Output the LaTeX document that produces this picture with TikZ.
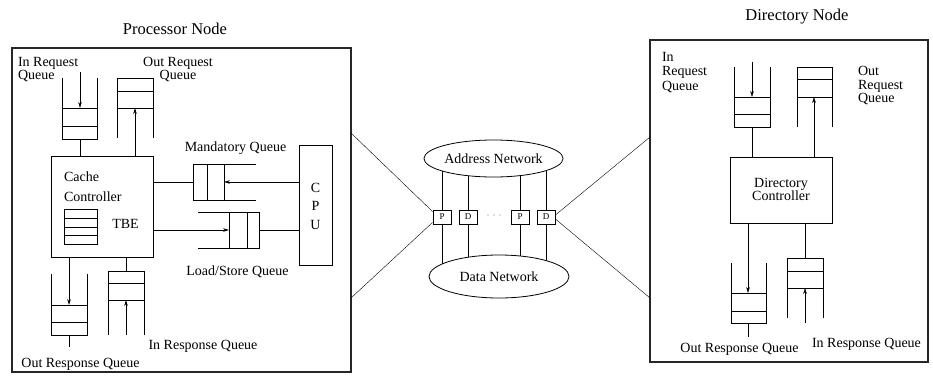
\documentclass[tikz,border=0pt]{standalone}
\usepackage{fontspec}
\setmainfont{Liberation Serif}
\usetikzlibrary{shapes.geometric,arrows.meta}
\pgfdeclarelayer{background}
\pgfsetlayers{background,main}
\tikzset{
  lbl/.style={font=\fontsize{14}{16}\selectfont, inner sep=0pt, outer sep=0pt},
  ttl/.style={font=\fontsize{16.5}{18}\selectfont, inner sep=0pt},
  box/.style={draw, line width=0.8pt, inner sep=0pt, outer sep=0pt, anchor=north west},
  frame/.style={draw=black!85, line width=1.2pt, inner sep=0pt, outer sep=0pt, anchor=north west},
  port/.style={draw, fill=white, line width=0.8pt, minimum width=18, minimum height=14, inner sep=0pt, font=\fontsize{9}{10}\selectfont},
  net/.style={draw, ellipse, fill=white, line width=0.8pt, inner sep=0pt, font=\fontsize{14}{16}\selectfont},
  arr/.style={-{Stealth[length=6pt,width=3.6pt]}},
}
\begin{document}
\begin{tikzpicture}[x=1pt,y=-1pt,line width=0.8pt]
\useasboundingbox (0,0) rectangle (933,375);

% ---------------- Processor node ----------------
\node[ttl, anchor=base] (ptitle) at (175,34) {Processor Node};
\node[frame, minimum width=339, minimum height=324] (proc) at (12,48) {};
\node[box, minimum width=102, minimum height=101] (ctrl) at (51,156) {};
\node[lbl, anchor=base west] (cc1) at (64,181) {Cache};
\node[lbl, anchor=base west] (cc2) at (64,201) {Controller};
\node[box, minimum width=33, minimum height=35] (tbe) at (64,209) {};
\foreach \y in {218,227,235} \draw (64,\y) -- (97,\y);
\node[lbl, anchor=base] (tbel) at (125.5,228) {TBE};

\node[box, minimum width=33, minimum height=120] (cpu) at (299,145) {};
\node[lbl, anchor=base] (c1) at (cpu.center |- 0,192) {C};
\node[lbl, anchor=base] (c2) at (cpu.center |- 0,210.5) {P};
\node[lbl, anchor=base] (c3) at (cpu.center |- 0,229) {U};

% In Request Queue
\node[lbl, anchor=base west] (irq1) at (18,66) {In Request};
\node[lbl, anchor=base west] (irq2) at (18,79) {Queue};
\draw (62,78) -- (62,139) -- (97,139) -- (97,78);
\draw (62,108) -- (97,108); \draw (62,126) -- (97,126);
\coordinate (irqIn) at (80,72);
\coordinate (irqT) at (80,108);
\coordinate (irqB) at (80,139);
\draw[arr] (irqIn) -- (irqT);
\draw (irqB) -- (ctrl.north -| irqB);

% Out Request Queue
\node[lbl, anchor=base] (orq1) at (178,66) {Out Request};
\node[lbl, anchor=base] (orq2) at (178,79) {Queue};
\draw (117,138) -- (117,78) -- (153,78) -- (153,138);
\draw (117,91) -- (153,91); \draw (117,108) -- (153,108);
\coordinate (orqB) at (135,108);
\draw[arr] (ctrl.north -| orqB) -- (orqB);

% Mandatory Queue
\node[lbl, anchor=base] (mql) at (235.5,151) {Mandatory Queue};
\draw (256,164) -- (193,164) -- (193,200) -- (256,200);
\draw (207,164) -- (207,200); \draw (224,164) -- (224,200);
\coordinate (mqL) at (193,182);
\coordinate (mqR) at (224,182);
\draw (ctrl.east |- mqL) -- (mqL);
\draw[arr] (cpu.west |- mqR) -- (mqR);

% Load/Store Queue
\node[lbl, anchor=base] (lsl) at (237.5,275) {Load/Store Queue};
\draw (198,212) -- (259,212) -- (259,248) -- (198,248);
\draw (229,212) -- (229,248); \draw (247,212) -- (247,248);
\coordinate (lsL) at (229,230);
\coordinate (lsR) at (259,230);
\draw[arr] (ctrl.east |- lsL) -- (lsL);
\draw (lsR) -- (cpu.west |- lsR);

% Out Response Queue
\draw (51,274) -- (51,335) -- (87,335) -- (87,274);
\draw (51,305) -- (87,305); \draw (51,322) -- (87,322);
\coordinate (oresT) at (69,305);
\coordinate (oresB) at (69,335);
\coordinate (oresE) at (69,347);
\draw[arr] (ctrl.south -| oresT) -- (oresT);
\draw (oresB) -- (oresE);
\node[lbl, anchor=base] (oresl) at (80.5,367) {Out Response Queue};

% In Response Queue
\draw (108,335) -- (108,271) -- (144,271) -- (144,335);
\draw (108,283) -- (144,283); \draw (108,300) -- (144,300);
\coordinate (iresT) at (126,271);
\coordinate (iresA) at (126,300);
\coordinate (iresS) at (126,335);
\draw (ctrl.south -| iresT) -- (iresT);
\draw[arr] (iresS) -- (iresA);
\node[lbl, anchor=base] (iresl) at (203,349) {In Response Queue};

% ---------------- Network ----------------
\node[net, minimum width=136, minimum height=37] (addr) at (493.5,158.5) {Address Network};
\node[net, minimum width=140, minimum height=43] (data) at (499,276.5) {Data Network};
\node[port] (p1) at (442,217) {P};
\node[port] (d1) at (468,217) {D};
\node[port] (p2) at (520,217) {P};
\node[port] (d2) at (546,217) {D};
\node[font=\fontsize{9}{10}\selectfont, text=black!60, inner sep=0pt] (dots) at (494,217) {·\,\,·\,\,·};
\begin{pgfonlayer}{background}
\foreach \p in {p1,d1,p2,d2} \draw (\p.center |- addr.center) -- (\p.center |- data.center);
\end{pgfonlayer}

% ---------------- Directory node ----------------
\node[ttl, anchor=base] (dtitle) at (797,20) {Directory Node};
\node[frame, minimum width=278, minimum height=322] (dir) at (650,40) {};
\node[box, minimum width=102, minimum height=66] (dctrl) at (730,157) {};
\node[lbl, anchor=base] (dc1) at (dctrl.center |- 0,187) {Directory};
\node[lbl, anchor=base] (dc2) at (dctrl.center |- 0,200) {Controller};

% In Request Queue
\node[lbl, anchor=base west] (dirq1) at (662,61) {In};
\node[lbl, anchor=base west] (dirq2) at (662,75.5) {Request};
\node[lbl, anchor=base west] (dirq3) at (662,90) {Queue};
\draw (734,67) -- (734,127) -- (770,127) -- (770,67);
\draw (734,97) -- (770,97); \draw (734,114) -- (770,114);
\coordinate (dirqIn) at (752,62);
\coordinate (dirqT) at (752,97);
\coordinate (dirqB) at (752,127);
\draw[arr] (dirqIn) -- (dirqT);
\draw (dirqB) -- (dctrl.north -| dirqB);

% Out Request Queue
\node[lbl, anchor=base west] (dorq1) at (858,75) {Out};
\node[lbl, anchor=base west] (dorq2) at (858,89) {Request};
\node[lbl, anchor=base west] (dorq3) at (858,102) {Queue};
\draw (797,127) -- (797,67) -- (832,67) -- (832,127);
\draw (797,79) -- (832,79); \draw (797,97) -- (832,97);
\coordinate (dorqB) at (814,97);
\draw[arr] (dctrl.north -| dorqB) -- (dorqB);

% Out Response Queue
\draw (731,263) -- (731,323) -- (766,323) -- (766,263);
\draw (731,293) -- (766,293); \draw (731,311) -- (766,311);
\coordinate (doresT) at (748,293);
\coordinate (doresB) at (748,323);
\coordinate (doresE) at (748,337);
\draw[arr] (dctrl.south -| doresT) -- (doresT);
\draw (doresB) -- (doresE);
\node[lbl, anchor=base] (doresl) at (739.5,352) {Out Response Queue};

% In Response Queue
\draw (787,318) -- (787,258) -- (823,258) -- (823,318);
\draw (787,271) -- (823,271); \draw (787,288) -- (823,288);
\coordinate (diresT) at (805,258);
\coordinate (diresA) at (805,288);
\coordinate (diresS) at (805,323);
\draw (dctrl.south -| diresT) -- (diresT);
\draw[arr] (diresS) -- (diresA);
\node[lbl, anchor=base] (diresl) at (866.5,347) {In Response Queue};

% ---------------- Links ----------------
\coordinate (pu) at (351,133);
\coordinate (pd) at (351,298);
\coordinate (du) at (650,137);
\coordinate (dd) at (650,298);
\draw (pu) -- ([yshift=-2pt]p1.north west);
\draw (pd) -- ([yshift=2pt]p1.south west);
\draw ([yshift=2pt]d2.east) -- (du);
\draw ([yshift=-2pt]d2.east) -- (dd);
\end{tikzpicture}
\end{document}
